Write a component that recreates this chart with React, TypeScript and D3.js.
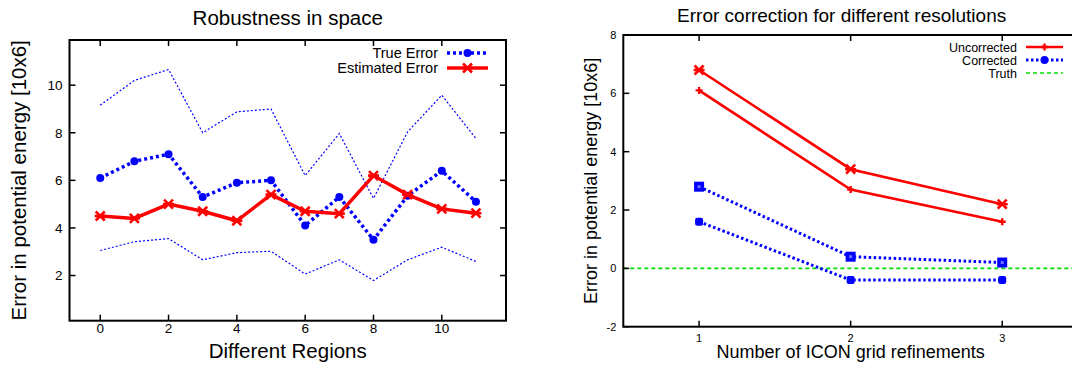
import React from 'react'
import * as d3 from 'd3'

const regions = [0, 1, 2, 3, 4, 5, 6, 7, 8, 9, 10, 11]
const trueError = [6.1, 6.8, 7.1, 5.3, 5.9, 6.0, 4.1, 5.3, 3.5, 5.35, 6.4, 5.1]
const trueUpper = [9.16, 10.2, 10.66, 8.0, 8.88, 9.0, 6.2, 7.97, 5.24, 8.04, 9.58, 7.76]
const trueLower = [3.05, 3.42, 3.55, 2.66, 2.96, 3.02, 2.06, 2.66, 1.79, 2.66, 3.19, 2.59]
const estimatedError = [4.5, 4.4, 5.0, 4.7, 4.3, 5.4, 4.7, 4.6, 6.2, 5.4, 4.8, 4.62]
const leftXTicks = [0, 2, 4, 6, 8, 10]
const leftYTicks = [2, 4, 6, 8, 10]

const refinements = [1, 2, 3]
const uncorrectedHigh = [6.8, 3.4, 2.2]
const uncorrectedLow = [6.1, 2.7, 1.6]
const correctedHigh = [2.8, 0.4, 0.2]
const correctedLow = [1.6, -0.4, -0.4]
const truthValue = 0
const rightXTicks = [1, 2, 3]
const rightYTicks = [-2, 0, 2, 4, 6, 8]

const FONT = '"Liberation Sans", Arial, Helvetica, sans-serif'
const RED = '#ff0000'
const BLUE = '#0000ff'
const GREEN = '#00e000'

const marker = (type, x, y, color, key) => {
  switch (type) {
    case 'circle':
      return <circle key={key} cx={x} cy={y} r={4} fill={color} />
    case 'star':
      return (
        <path
          key={key}
          transform={`translate(${x},${y})`}
          d="M-4.5,-4.5L4.5,4.5M-4.5,4.5L4.5,-4.5M-5.5,0L5.5,0"
          stroke={color}
          strokeWidth={2.6}
          fill="none"
        />
      )
    case 'plus':
      return (
        <path
          key={key}
          transform={`translate(${x},${y})`}
          d="M-3.5,0L3.5,0M0,-3.5L0,3.5"
          stroke={color}
          strokeWidth={2.4}
          fill="none"
        />
      )
    case 'square':
      return (
        <g key={key} transform={`translate(${x},${y})`}>
          <rect x={-5} y={-5} width={10} height={10} fill={color} />
          <rect x={-1.5} y={-1.5} width={3} height={3} fill="#7070ff" />
        </g>
      )
    case 'dot':
      return <rect key={key} x={x - 4} y={y - 4} width={8} height={8} rx={2} fill={color} />
    default:
      return null
  }
}

const Panel = ({ frame, xDomain, yDomain, xTicks, yTicks, series, title, titleY, xLabel, yLabel, fonts, legend, rightTicks, refLine }) => {
  const { left, right, top, bottom } = frame
  const x = d3.scaleLinear().domain(xDomain).range([left, right])
  const y = d3.scaleLinear().domain(yDomain).range([bottom, top])
  const clipId = `clip-${Math.round(left)}`
  const tick = 6
  const line = d3
    .line()
    .x(d => x(d[0]))
    .y(d => y(d[1]))

  return (
    <g fontFamily={FONT}>
      <defs>
        <clipPath id={clipId}>
          <rect x={left} y={top} width={right - left} height={bottom - top} />
        </clipPath>
      </defs>

      <text x={(left + right) / 2 - fonts.titleShift} y={titleY} fontSize={fonts.title} textAnchor="middle">
        {title}
      </text>

      {refLine && (
        <line
          x1={left}
          x2={right}
          y1={y(refLine.value)}
          y2={y(refLine.value)}
          stroke={refLine.color}
          strokeWidth={1.6}
          strokeDasharray="4,3"
        />
      )}

      <g clipPath={`url(#${clipId})`}>
        {series.map((s, i) => {
          const pts = s.xs.map((v, j) => [v, s.ys[j]])
          return (
            <g key={i}>
              <path d={line(pts)} fill="none" stroke={s.color} strokeWidth={s.width} strokeDasharray={s.dash} />
              {s.marker && pts.map((p, j) => marker(s.marker, x(p[0]), y(p[1]), s.color, j))}
            </g>
          )
        })}
      </g>

      {xTicks.map(t => (
        <g key={`x${t}`}>
          <line x1={x(t)} x2={x(t)} y1={bottom} y2={bottom - tick} stroke="#000" strokeWidth={1.5} />
          <line x1={x(t)} x2={x(t)} y1={top} y2={top + tick} stroke="#000" strokeWidth={1.5} />
          <text x={x(t)} y={bottom + fonts.xTickDy} fontSize={fonts.tick} textAnchor="middle">
            {t}
          </text>
        </g>
      ))}
      {yTicks.map(t => (
        <g key={`y${t}`}>
          <line x1={left} x2={left + tick} y1={y(t)} y2={y(t)} stroke="#000" strokeWidth={1.5} />
          {rightTicks && <line x1={right} x2={right - tick} y1={y(t)} y2={y(t)} stroke="#000" strokeWidth={1.5} />}
          <text x={left - 7} y={y(t)} dy="0.36em" fontSize={fonts.tick} textAnchor="end">
            {t}
          </text>
        </g>
      ))}

      <rect x={left} y={top} width={right - left} height={bottom - top} fill="none" stroke="#000" strokeWidth={2} />

      <text x={(left + right) / 2} y={bottom + fonts.xLabelDy} fontSize={fonts.label} textAnchor="middle">
        {xLabel}
      </text>
      <text
        transform={`translate(${fonts.yLabelX},${(top + bottom) / 2}) rotate(-90)`}
        fontSize={fonts.label}
        textAnchor="middle"
      >
        {yLabel}
      </text>

      {legend.items.map((item, i) => {
        const ly = legend.y + i * legend.step
        return (
          <g key={item.label}>
            <text x={legend.x} y={ly} dy="0.36em" fontSize={legend.font} textAnchor="end">
              {item.label}
            </text>
            <line
              x1={legend.x + legend.gap}
              x2={legend.x + legend.gap + legend.len}
              y1={ly}
              y2={ly}
              stroke={item.color}
              strokeWidth={item.width}
              strokeDasharray={item.dash}
            />
            {item.marker && marker(item.marker, legend.x + legend.gap + legend.len / 2, ly, item.color, 'm')}
          </g>
        )
      })}
    </g>
  )
}

const App = () => {
  const leftSeries = [
    { xs: regions, ys: trueUpper, color: BLUE, width: 1.2, dash: '2,2' },
    { xs: regions, ys: trueLower, color: BLUE, width: 1.2, dash: '2,2' },
    { xs: regions, ys: trueError, color: BLUE, width: 3.5, dash: '3,3', marker: 'circle' },
    { xs: regions, ys: estimatedError, color: RED, width: 3.5, marker: 'star' }
  ]
  const rightSeries = [
    { xs: refinements, ys: uncorrectedHigh, color: RED, width: 2.6, marker: 'star' },
    { xs: refinements, ys: uncorrectedLow, color: RED, width: 2.6, marker: 'plus' },
    { xs: refinements, ys: correctedHigh, color: BLUE, width: 3, dash: '2.5,2.5', marker: 'square' },
    { xs: refinements, ys: correctedLow, color: BLUE, width: 3, dash: '2.5,2.5', marker: 'dot' }
  ]

  return (
    <svg width={1072} height={369} style={{ position: 'absolute', left: 0, top: 0, background: '#fff' }}>
      <Panel
        frame={{ left: 69.5, right: 506, top: 40, bottom: 320.7 }}
        xDomain={[-0.9, 11.88]}
        yDomain={[0.1, 11.9]}
        xTicks={leftXTicks}
        yTicks={leftYTicks}
        series={leftSeries}
        title="Robustness in space"
        titleY={25}
        xLabel="Different Regions"
        yLabel="Error in potential energy [10x6]"
        fonts={{ title: 20.5, label: 20.5, tick: 13.5, xTickDy: 12.5, xLabelDy: 37, yLabelX: 26, titleShift: 0 }}
        rightTicks
        legend={{
          x: 438,
          y: 53,
          step: 15,
          gap: 9,
          len: 41,
          font: 14.5,
          items: [
            { label: 'True Error', color: BLUE, width: 3.5, dash: '3,3', marker: 'circle' },
            { label: 'Estimated Error', color: RED, width: 3.5, marker: 'star' }
          ]
        }}
      />
      <Panel
        frame={{ left: 623.3, right: 1078, top: 35, bottom: 326.7 }}
        xDomain={[0.5, 3.5]}
        yDomain={[-2, 8]}
        xTicks={rightXTicks}
        yTicks={rightYTicks}
        series={rightSeries}
        title="Error correction for different resolutions"
        titleY={22}
        xLabel="Number of ICON grid refinements"
        yLabel="Error in potential energy [10x6]"
        fonts={{ title: 19, label: 18, tick: 11, xTickDy: 15, xLabelDy: 31, yLabelX: 597, titleShift: 9 }}
        refLine={{ value: truthValue, color: GREEN }}
        legend={{
          x: 1017,
          y: 47,
          step: 13,
          gap: 9,
          len: 37,
          font: 12.5,
          items: [
            { label: 'Uncorrected', color: RED, width: 2.6, marker: 'plus' },
            { label: 'Corrected', color: BLUE, width: 3, dash: '2.5,2.5', marker: 'circle' },
            { label: 'Truth', color: GREEN, width: 1.6, dash: '4,3' }
          ]
        }}
      />
    </svg>
  )
}

export default App
